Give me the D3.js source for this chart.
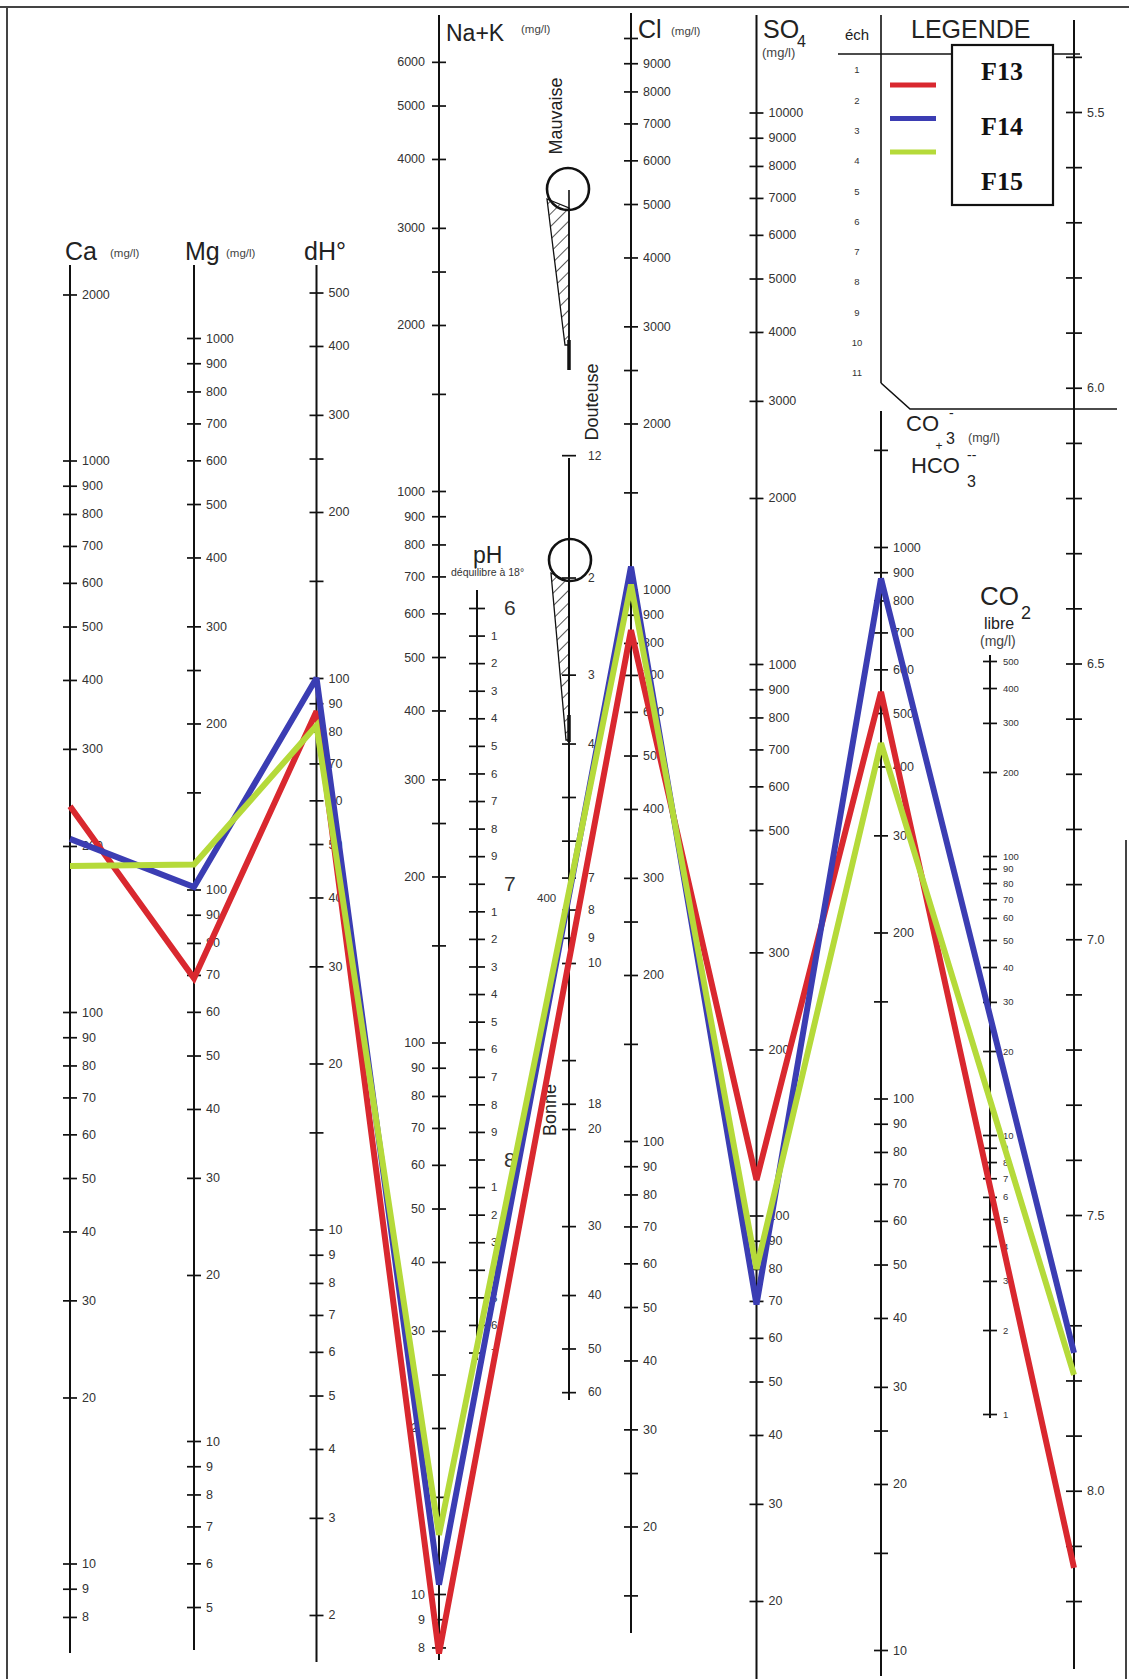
<!DOCTYPE html>
<html>
<head>
<meta charset="utf-8">
<script src="https://cdn.jsdelivr.net/npm/d3@7"></script>
<style>
  body { margin: 0; background: #fff; }
  svg text { font-family: "Liberation Sans", Arial, sans-serif; }
</style>
</head>
<body>
<div id="chart"></div>
<script>
// Schoeller-Berkaloff diagram for three water samples (F13, F14, F15)

// ---- data -----------------------------------------------------------------
const parameters = ['Ca', 'Mg', 'dH', 'NaK', 'Cl', 'SO4', 'HCO3', 'pH'];
const sampleNames = ['F13', 'F14', 'F15'];
const sampleColors = ['#d9282f', '#3b3db3', '#b5da3a'];
const f13Values = [236, 69, 87, 7.8, 844, 116, 546, 8.14];
const f14Values = [206, 101, 100, 10.4, 1100, 69, 877, 7.75];
const f15Values = [184, 111, 82, 12.8, 1021, 80, 441, 7.79];

// tick values per axis (blank = tick without label)
const caTicks = [2000, 1000, 900, 800, 700, 600, 500, 400, 300, 200, 100, 90, 80, 70, 60, 50, 40, 30, 20, 10, 9, 8];
const mgTicks = [1000, 900, 800, 700, 600, 500, 400, 300, 250, 200, 150, 100, 90, 80, 70, 60, 50, 40, 30, 20, 10, 9, 8, 7, 6, 5];
const mgBlank = [250, 150];
const dhTicks = [500, 400, 300, 250, 200, 150, 100, 90, 80, 70, 60, 50, 40, 30, 20, 15, 10, 9, 8, 7, 6, 5, 4, 3, 2];
const dhBlank = [250, 150, 15];
const nakTicks = [6000, 5000, 4000, 3000, 2500, 2000, 1500, 1000, 900, 800, 700, 600, 500, 400, 300, 250, 200, 150,
  100, 90, 80, 70, 60, 50, 40, 30, 25, 20, 15, 10, 9, 8];
const nakBlank = [2500, 1500, 250, 150, 25, 15];
const clTicks = [10000, 9000, 8000, 7000, 6000, 5000, 4000, 3000, 2500, 2000, 1500, 1000, 900, 800, 700, 600, 500, 400,
  300, 250, 200, 150, 100, 90, 80, 70, 60, 50, 40, 30, 25, 20, 15];
const clBlank = [10000, 2500, 1500, 250, 150, 25, 15];
const so4Ticks = [10000, 9000, 8000, 7000, 6000, 5000, 4000, 3000, 2000, 1000, 900, 800, 700, 600, 500, 400, 300, 200,
  100, 90, 80, 70, 60, 50, 40, 30, 20];
const so4Blank = [400];
const hco3Ticks = [1500, 1000, 900, 800, 700, 600, 500, 400, 300, 200, 150, 100, 90, 80, 70, 60, 50, 40, 30, 25, 20, 15, 10];
const hco3Blank = [1500, 150, 25, 15];
const co2Ticks = [500, 400, 300, 200, 100, 90, 80, 70, 60, 50, 40, 30, 20, 10, 9, 8, 7, 6, 5, 4, 3, 2, 1];
const phTicks = d3.range(54, 83).map(d => d / 10);
const phLabels = [5.5, 6.0, 6.5, 7.0, 7.5, 8.0];
const phEqTicks = d3.range(60, 88).map(d => d / 10);
const phEqMajor = [6, 7, 8];
const qualityTicks = [1.2, 2, 3, 4, 5, 6, 7, 8, 9, 10, 15, 18, 20, 30, 40, 50, 60];
const qualityBlank = [5, 6, 15];
const echNumbers = [1, 2, 3, 4, 5, 6, 7, 8, 9, 10, 11];

// ---- layout -----------------------------------------------------------------
const W = 1129, H = 1679;
const DECADE = 551.5;   // px per log decade

const svg = d3.select('#chart').append('svg')
  .attr('width', W).attr('height', H)
  .style('display', 'block');
svg.append('rect').attr('width', W).attr('height', H).attr('fill', '#fff');

function decadeScale(v0, y0, decade = DECADE) {
  return d3.scaleLog().domain([v0, v0 / 10]).range([y0, y0 + decade]);
}

const scales = {
  Ca: decadeScale(1000, 460.5),
  Mg: decadeScale(1000, 338),
  dH: decadeScale(100, 678),
  NaK: decadeScale(1000, 491),
  Cl: decadeScale(1000, 589.5),
  SO4: decadeScale(1000, 664),
  HCO3: decadeScale(1000, 547),
  pH: d3.scaleLinear().domain([5.5, 8]).range([112, 112 + 2.5 * DECADE])
};
const co2Scale = decadeScale(500, 661, 279);
const phEqScale = d3.scaleLinear().domain([6, 8]).range([608, 608 + DECADE]);
const qualityScale = d3.scaleLog().domain([10, 100]).range([963, 963 + DECADE]);

const axisX = { Ca: 70, Mg: 194, dH: 316.5, NaK: 439, Cl: 631, SO4: 756.5, HCO3: 881, pH: 1074 };

// ---- helpers ---------------------------------------------------------------
function drawAxis({ x, scale, ticks, blank = [], side = 'right', top, bottom,
                    fontSize = 12.5, tick = 7, pad = 5, format = d => String(d) }) {
  const gen = (side === 'left' ? d3.axisLeft(scale) : d3.axisRight(scale))
    .tickValues(ticks)
    .tickSize(tick)
    .tickPadding(pad)
    .tickFormat(d => blank.includes(d) ? '' : format(d));
  const g = svg.append('g').attr('transform', `translate(${x},0)`).call(gen);
  g.select('.domain').remove();
  g.selectAll('.tick line')
    .attr('x1', side === 'left' ? tick : -tick)
    .attr('stroke', '#111')
    .attr('stroke-width', 1.7);
  g.selectAll('.tick text')
    .attr('font-size', fontSize)
    .attr('fill', '#333');
  g.append('line')
    .attr('y1', top).attr('y2', bottom)
    .attr('stroke', '#111').attr('stroke-width', 2);
  return g;
}

function text(x, y, str, size, opts = {}) {
  return svg.append('text')
    .attr('x', x).attr('y', y)
    .attr('font-size', size)
    .attr('fill', opts.fill || '#222')
    .attr('text-anchor', opts.anchor || 'start')
    .text(str);
}

function rotatedText(cx, cy, str, size) {
  svg.append('text')
    .attr('transform', `translate(${cx},${cy}) rotate(-90)`)
    .attr('text-anchor', 'middle')
    .attr('dominant-baseline', 'central')
    .attr('font-size', size)
    .attr('fill', '#222')
    .text(str);
}

// ---- frame & legend box lines ------------------------------------------------
const frame = svg.append('g').attr('stroke', '#444').attr('stroke-width', 2).attr('fill', 'none');
frame.append('line').attr('x1', 0).attr('x2', W).attr('y1', 7).attr('y2', 7);
frame.append('line').attr('x1', 7).attr('x2', 7).attr('y1', 7).attr('y2', H);
frame.append('line').attr('x1', 1126).attr('x2', 1126).attr('y1', 840).attr('y2', H);

const legendFrame = svg.append('g').attr('stroke', '#111').attr('stroke-width', 1.6).attr('fill', 'none');
legendFrame.append('line').attr('x1', 838).attr('x2', 1080).attr('y1', 54).attr('y2', 54);
legendFrame.append('line').attr('x1', 881).attr('x2', 881).attr('y1', 15).attr('y2', 383);
legendFrame.append('polyline').attr('points', '881,383 910,409 1117,409');

// ---- axes ------------------------------------------------------------------
drawAxis({ x: axisX.Ca, scale: scales.Ca, ticks: caTicks, top: 265, bottom: 1653 });
drawAxis({ x: axisX.Mg, scale: scales.Mg, ticks: mgTicks, blank: mgBlank, top: 265, bottom: 1650 });
drawAxis({ x: axisX.dH, scale: scales.dH, ticks: dhTicks, blank: dhBlank, top: 265, bottom: 1662 });
drawAxis({ x: axisX.NaK, scale: scales.NaK, ticks: nakTicks, blank: nakBlank, side: 'left', top: 15, bottom: 1660, pad: 7 });
drawAxis({ x: axisX.Cl, scale: scales.Cl, ticks: clTicks, blank: clBlank, top: 13, bottom: 1633 });
drawAxis({ x: axisX.SO4, scale: scales.SO4, ticks: so4Ticks, blank: so4Blank, top: 15, bottom: H });
drawAxis({ x: axisX.HCO3, scale: scales.HCO3, ticks: hco3Ticks, blank: hco3Blank, top: 411, bottom: 1676 });
drawAxis({ x: 990, scale: co2Scale, ticks: co2Ticks, top: 655, bottom: 1418, fontSize: 9.5, tick: 7, pad: 6 });
drawAxis({ x: axisX.pH, scale: scales.pH, ticks: phTicks, top: 20, bottom: 1669, tick: 8,
  format: d => phLabels.some(p => Math.abs(p - d) < 1e-6) ? d.toFixed(1) : '' });

// pH d'equilibre scale (tenths only as small digits, units larger)
drawAxis({ x: 477, scale: phEqScale, ticks: phEqTicks, top: 590, bottom: 1360, tick: 8, pad: 6, fontSize: 11.5,
  format: d => { const t = Math.round(d * 10) % 10; return t === 0 ? '' : String(t); } });
svg.append('g').selectAll('text').data(phEqMajor).join('text')
  .attr('x', 504).attr('y', d => phEqScale(d)).attr('dy', '0.35em')
  .attr('font-size', 21).attr('fill', '#333').text(d => d);

// water quality scale (Mauvaise / Douteuse / Bonne)
drawAxis({ x: 569, scale: qualityScale, ticks: qualityTicks, blank: qualityBlank, top: 458, bottom: 1400,
  pad: 12, fontSize: 12, format: d => d === 1.2 ? '12' : String(d) });

// ---- wedges and circles ------------------------------------------------------
const defs = svg.append('defs');
const hatch = defs.append('pattern')
  .attr('id', 'hatch').attr('patternUnits', 'userSpaceOnUse')
  .attr('width', 9).attr('height', 9).attr('patternTransform', 'rotate(45)');
hatch.append('line').attr('x1', 0).attr('y1', 0).attr('x2', 0).attr('y2', 9)
  .attr('stroke', '#111').attr('stroke-width', 1.4);

const deco = svg.append('g').attr('stroke', '#111').attr('fill', 'none');
deco.append('polygon').attr('points', '547,199 569,208 569,345 565,345')
  .attr('fill', 'url(#hatch)').attr('stroke-width', 1.3);
deco.append('line').attr('x1', 569).attr('x2', 569).attr('y1', 190).attr('y2', 370).attr('stroke-width', 1.6);
deco.append('line').attr('x1', 569).attr('x2', 569).attr('y1', 340).attr('y2', 370).attr('stroke-width', 3.5);
deco.append('circle').attr('cx', 568).attr('cy', 189).attr('r', 21).attr('fill', 'none').attr('stroke-width', 2.6);

deco.append('polygon').attr('points', '551,573 569,582 569,740 566,740')
  .attr('fill', 'url(#hatch)').attr('stroke-width', 1.3);
deco.append('line').attr('x1', 569).attr('x2', 569).attr('y1', 715).attr('y2', 742).attr('stroke-width', 3.5);
deco.append('circle').attr('cx', 570).attr('cy', 560).attr('r', 21).attr('fill', 'none').attr('stroke-width', 2.6);

rotatedText(556, 116, 'Mauvaise', 18);
rotatedText(592, 402, 'Douteuse', 18);
rotatedText(550, 1110, 'Bonne', 18);
text(537, 902, '400', 11.5, { fill: '#333' });

// ---- headers ----------------------------------------------------------------
text(65, 260, 'Ca', 25);
text(110, 257, '(mg/l)', 11.5, { fill: '#444' });
text(185, 260, 'Mg', 25);
text(226, 257, '(mg/l)', 11.5, { fill: '#444' });
text(304, 260, 'dH°', 25);
text(446, 41, 'Na+K', 23);
text(521, 33, '(mg/l)', 11.5, { fill: '#444' });
text(638, 38, 'Cl', 25);
text(671, 35, '(mg/l)', 11.5, { fill: '#444' });
text(763, 38, 'SO', 25);
text(797, 47, '4', 16);
text(762, 57, '(mg/l)', 13, { fill: '#444' });
text(845, 40, 'éch', 15);
text(911, 38, 'LEGENDE', 25);

text(473, 563, 'pH', 23);
text(451, 576, 'déquilibre à 18°', 10.5, { fill: '#333' });

// CO3- + HCO3-- label
text(906, 431, 'CO', 22);
text(946, 444, '3', 16);
text(949, 418, '-', 14);
text(968, 442, '(mg/l)', 12.5, { fill: '#444' });
text(939, 450, '+', 12, { anchor: 'middle' });
text(911, 473, 'HCO', 22);
text(967, 487, '3', 16);
text(967, 460, '--', 14);

// CO2 libre label
text(980, 605, 'CO', 26);
text(1021, 619, '2', 18);
text(984, 629, 'libre', 16);
text(980, 646, '(mg/l)', 14, { fill: '#444' });

// sample numbers column
svg.append('g').selectAll('text').data(echNumbers).join('text')
  .attr('x', 857).attr('y', (d, i) => 70 + i * 30.3).attr('dy', '0.35em')
  .attr('text-anchor', 'middle').attr('font-size', 9.5).attr('fill', '#333')
  .text(d => d);

// ---- legend -----------------------------------------------------------------
const legendY = d3.scaleBand().domain(sampleNames).range([43.5, 208.5]);
const legend = svg.append('g');
legend.append('rect')
  .attr('x', 952).attr('y', 45).attr('width', 101).attr('height', 160)
  .attr('fill', '#fff').attr('stroke', '#111').attr('stroke-width', 2.2);
legend.selectAll('line.key').data(sampleNames).join('line')
  .attr('class', 'key')
  .attr('x1', 890).attr('x2', 936)
  .attr('y1', (d, i) => 85 + i * 33.5).attr('y2', (d, i) => 85 + i * 33.5)
  .attr('stroke', (d, i) => sampleColors[i]).attr('stroke-width', 5);
legend.selectAll('text.name').data(sampleNames).join('text')
  .attr('class', 'name')
  .attr('x', 1002).attr('y', d => legendY(d) + legendY.bandwidth() / 2 + 9)
  .attr('text-anchor', 'middle')
  .style('font-family', '"Liberation Serif", "Times New Roman", serif')
  .attr('font-weight', 'bold').attr('font-size', 26).attr('fill', '#111')
  .text(d => d);

// ---- sample polylines ----------------------------------------------------------
const series = [f13Values, f14Values, f15Values];
const lineGen = d3.line()
  .x((d, i) => axisX[parameters[i]])
  .y((d, i) => scales[parameters[i]](d));

svg.append('g').selectAll('path').data(series).join('path')
  .attr('d', lineGen)
  .attr('fill', 'none')
  .attr('stroke', (d, i) => sampleColors[i])
  .attr('stroke-width', 6)
  .attr('stroke-linejoin', 'miter')
  .attr('stroke-miterlimit', 3);
</script>
</body>
</html>
